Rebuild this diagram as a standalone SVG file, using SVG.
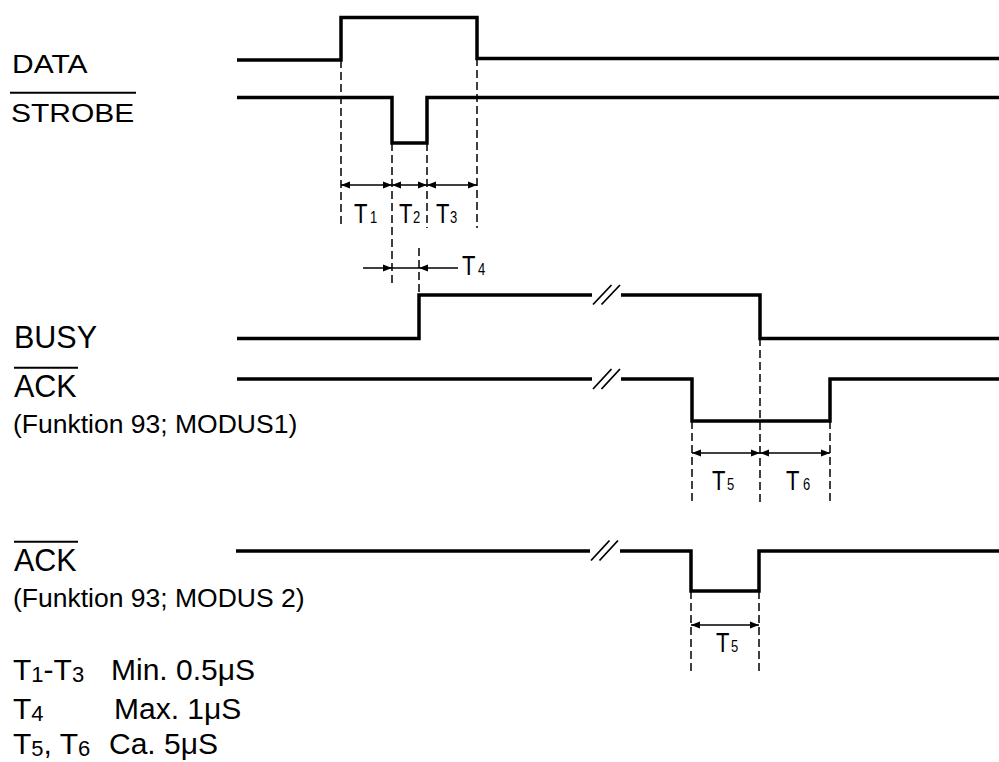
<svg xmlns="http://www.w3.org/2000/svg" width="999" height="762" viewBox="0 0 999 762">
<style>
text{font-family:"Liberation Sans",Arial,sans-serif;fill:#000}
.sig{fill:none;stroke:#000;stroke-width:3.5;stroke-linejoin:miter;stroke-linecap:butt}
.brk{fill:none;stroke:#000;stroke-width:1.8}
.dash{fill:none;stroke:#000;stroke-width:1.5;stroke-dasharray:8 4}
.dim{fill:none;stroke:#000;stroke-width:1.5}
.bar{stroke:#000;stroke-width:2}
.lbl{font-size:30px}
.lbl2{font-size:30.5px}
.sub{font-size:26.5px}
.t{font-size:22px}
.ts{font-size:13px}
.leg{font-size:30px}
.legs{font-size:22px}
</style>
<defs>
<marker id="ah" markerUnits="userSpaceOnUse" markerWidth="10" markerHeight="8" refX="9" refY="4" orient="auto-start-reverse">
<path d="M0,0.5 L9,4 L0,7.5 Z" fill="#000"/>
</marker>
</defs>
<rect width="999" height="762" fill="#fff"/>

<g id="sig-data">
<text class="lbl" transform="translate(12,73.3) scale(1,0.88)">DATA</text>
<path class="sig" d="M237,60 H341 V17.5 H477 V58.5 H999"/>
</g>

<g id="sig-strobe">
<line class="bar" x1="10" y1="92.7" x2="136" y2="92.7"/>
<text class="lbl" transform="translate(11,121.7) scale(1,0.88)">STROBE</text>
<path class="sig" d="M237,97.5 H392 V143 H427 V97.5 H999"/>
</g>

<g id="sig-busy">
<text class="lbl2" x="14" y="348.3">BUSY</text>
<path class="sig" d="M237,338.5 H419 V295 H592"/>
<path class="sig" d="M621,295 H760 V338.5 H999"/>
<path class="brk" d="M593,304.5 L611.5,285 M601.5,304.5 L620,285"/>
</g>

<g id="sig-ack1">
<line class="bar" x1="14" y1="367.7" x2="78" y2="367.7"/>
<text class="lbl2" x="14" y="397.3">ACK</text>
<text class="sub" x="13" y="433.3">(Funktion 93; MODUS1)</text>
<path class="sig" d="M237,379 H592"/>
<path class="sig" d="M621,379 H692 V421 H830 V379 H999"/>
<path class="brk" d="M593,389 L611.5,369 M601.5,389 L620,369"/>
</g>

<g id="sig-ack2">
<line class="bar" x1="14" y1="541.7" x2="78" y2="541.7"/>
<text class="lbl2" x="14" y="570.7">ACK</text>
<text class="sub" x="13" y="606.7">(Funktion 93; MODUS 2)</text>
<path class="sig" d="M236,551 H590"/>
<path class="sig" d="M620,551 H691 V591 H759 V551 H999"/>
<path class="brk" d="M591,560.5 L609.5,540.5 M599.5,560.5 L618,540.5"/>
</g>

<g id="connectors">
<path class="dash" d="M341,60 V228 M392,143 V283 M427,143 V228 M477,58 V228 M419,248 V295"/>
<path class="dash" d="M692,421 V503 M760,338 V503 M830,421 V503 M691,591 V672 M759,591 V672"/>
<line class="dim" x1="341" y1="185" x2="392" y2="185" marker-start="url(#ah)" marker-end="url(#ah)"/>
<line class="dim" x1="392" y1="185" x2="427" y2="185" marker-start="url(#ah)" marker-end="url(#ah)"/>
<line class="dim" x1="427" y1="185" x2="477" y2="185" marker-start="url(#ah)" marker-end="url(#ah)"/>
<line class="dim" x1="363" y1="268" x2="392" y2="268" marker-end="url(#ah)"/>
<line class="dim" x1="392" y1="268" x2="419" y2="268"/>
<line class="dim" x1="458" y1="268" x2="419" y2="268" marker-end="url(#ah)"/>
<line class="dim" x1="692" y1="453" x2="760" y2="453" marker-start="url(#ah)" marker-end="url(#ah)"/>
<line class="dim" x1="760" y1="453" x2="830" y2="453" marker-start="url(#ah)" marker-end="url(#ah)"/>
<line class="dim" x1="691" y1="625" x2="759" y2="625" marker-start="url(#ah)" marker-end="url(#ah)"/>
</g>

<g id="timing-labels">
<g transform="translate(354,222.5) scale(1,1.22)"><text class="t">T</text><text class="ts" x="16">1</text></g>
<g transform="translate(399,222.5) scale(1,1.22)"><text class="t">T</text><text class="ts" x="14">2</text></g>
<g transform="translate(436,222.5) scale(1,1.22)"><text class="t">T</text><text class="ts" x="14">3</text></g>
<g transform="translate(462,275) scale(1,1.22)"><text class="t">T</text><text class="ts" x="16">4</text></g>
<g transform="translate(712,490) scale(1,1.22)"><text class="t">T</text><text class="ts" x="15">5</text></g>
<g transform="translate(786,490) scale(1,1.22)"><text class="t">T</text><text class="ts" x="17">6</text></g>
<g transform="translate(716,652) scale(1,1.22)"><text class="t">T</text><text class="ts" x="15">5</text></g>
</g>

<g id="legend">
<text class="leg" x="13" y="680">T<tspan class="legs" dy="2">1</tspan><tspan dy="-2">-T</tspan><tspan class="legs" dy="2">3</tspan></text>
<text class="leg" x="111" y="680">Min. 0.5μS</text>
<text class="leg" x="13" y="719.3">T<tspan class="legs" dy="2">4</tspan></text>
<text class="leg" x="114" y="719.3">Max. 1μS</text>
<text class="leg" x="13" y="754.3">T<tspan class="legs" dy="2">5</tspan><tspan dy="-2">, T</tspan><tspan class="legs" dy="2">6</tspan></text>
<text class="leg" x="109" y="754.3">Ca. 5μS</text>
</g>
</svg>
